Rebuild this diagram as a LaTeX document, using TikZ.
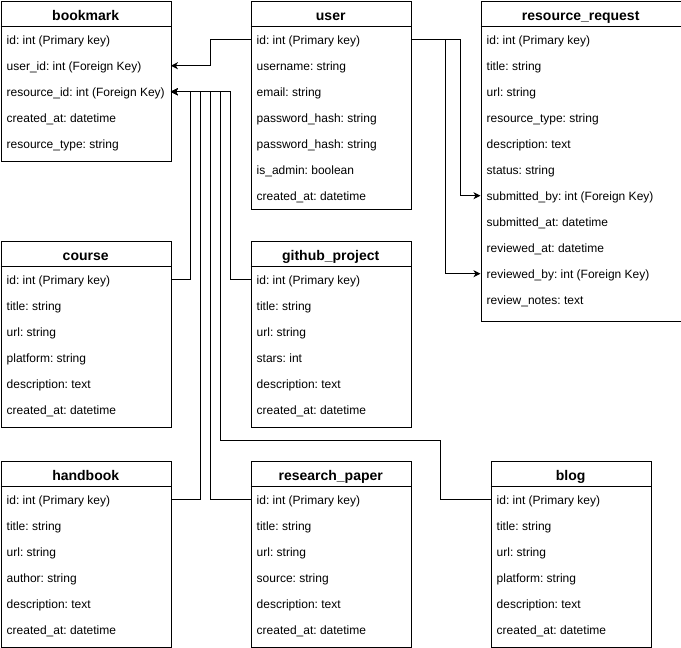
\documentclass[tikz,border=0pt]{standalone}
\usepackage{fontspec}
\setmainfont{Liberation Sans}
\usetikzlibrary{arrows.meta}
\frenchspacing
\tikzset{
  tblbox/.style={draw, line width=1pt, anchor=north west, inner sep=0pt},
  hdr/.style={anchor=north west, minimum height=26pt, inner sep=0pt, text height=13.5pt, text depth=0.5pt, font=\fontsize{14}{16}\selectfont\bfseries},
  rowtxt/.style={anchor=north west, minimum height=26pt, inner ysep=0pt, inner xsep=6pt, text height=11.5pt, text depth=1pt, font=\fontsize{12}{14}\selectfont},
  conn/.style={line width=1pt},
  arr/.style={-{Stealth[length=7pt,width=7pt,inset=2pt]}}
}
\newcommand\ertable[7]{%
  \node[tblbox, minimum width=#4pt, minimum height=#5pt] (#1) at (#2,#3) {};
  \node[hdr, minimum width=#4pt] (#1-h) at (#2,#3) {#6};
  \draw[line width=1pt] (#1-h.south west) -- (#1-h.south east);
  \pgfmathsetmacro\rowtw{#4-12}
  \foreach \t [count=\i] in {#7} {
    \node[rowtxt] (#1-\i) at (#2,{#3+26*\i}) {\makebox[\rowtw pt][l]{\t}};
  }
}
\begin{document}
\begin{tikzpicture}[x=1pt,y=-1pt]
\useasboundingbox (0,0) rectangle (681,648);
\begin{scope}[shift={(0.5,0.5)}]
\ertable{bookmark}{0}{0}{170}{160}{bookmark}{id: int (Primary key), user\_id: int (Foreign Key), resource\_id: int (Foreign Key), created\_at: datetime, resource\_type: string}
\ertable{user}{250}{0}{160}{208}{user}{id: int (Primary key), username: string, email: string, password\_hash: string, password\_hash: string, is\_admin: boolean, created\_at: datetime}
\ertable{rr}{480}{0}{200}{320}{resource\_request}{id: int (Primary key), title: string, url: string, resource\_type: string, description: text, status: string, submitted\_by: int (Foreign Key), submitted\_at: datetime, reviewed\_at: datetime, reviewed\_by: int (Foreign Key), review\_notes: text}
\ertable{course}{0}{240}{170}{186}{course}{id: int (Primary key), title: string, url: string, platform: string, description: text, created\_at: datetime}
\ertable{github}{250}{240}{160}{186}{github\_project}{id: int (Primary key), title: string, url: string, stars: int, description: text, created\_at: datetime}
\ertable{handbook}{0}{460}{170}{186}{handbook}{id: int (Primary key), title: string, url: string, author: string, description: text, created\_at: datetime}
\ertable{research}{250}{460}{160}{186}{research\_paper}{id: int (Primary key), title: string, url: string, source: string, description: text, created\_at: datetime}
\ertable{blog}{490}{460}{160}{186}{blog}{id: int (Primary key), title: string, url: string, platform: string, description: text, created\_at: datetime}

\draw[conn,arr] (user-1.west) -- ++(-40,0) |- (bookmark-2.east);
\draw[conn,arr] (course-1.east) -- ++(20,0) |- (bookmark-3.east);
\draw[conn,arr] (handbook-1.east) -- ++(30,0) |- (bookmark-3.east);
\draw[conn,arr] (research-1.west) -- ++(-40,0) |- (bookmark-3.east);
\coordinate (blogbend) at (220,440);
\draw[conn,arr] (blog-1.west) -- ++(-50,0) |- (blogbend) |- (bookmark-3.east);
\draw[conn,arr] (github-1.west) -- ++(-20,0) |- (bookmark-3.east);
\draw[conn,arr] (user-1.east) -- ++(50,0) |- (rr-7.west);
\draw[conn,arr] (user-1.east) -- ++(35,0) |- (rr-10.west);
\end{scope}
\end{tikzpicture}
\end{document}
